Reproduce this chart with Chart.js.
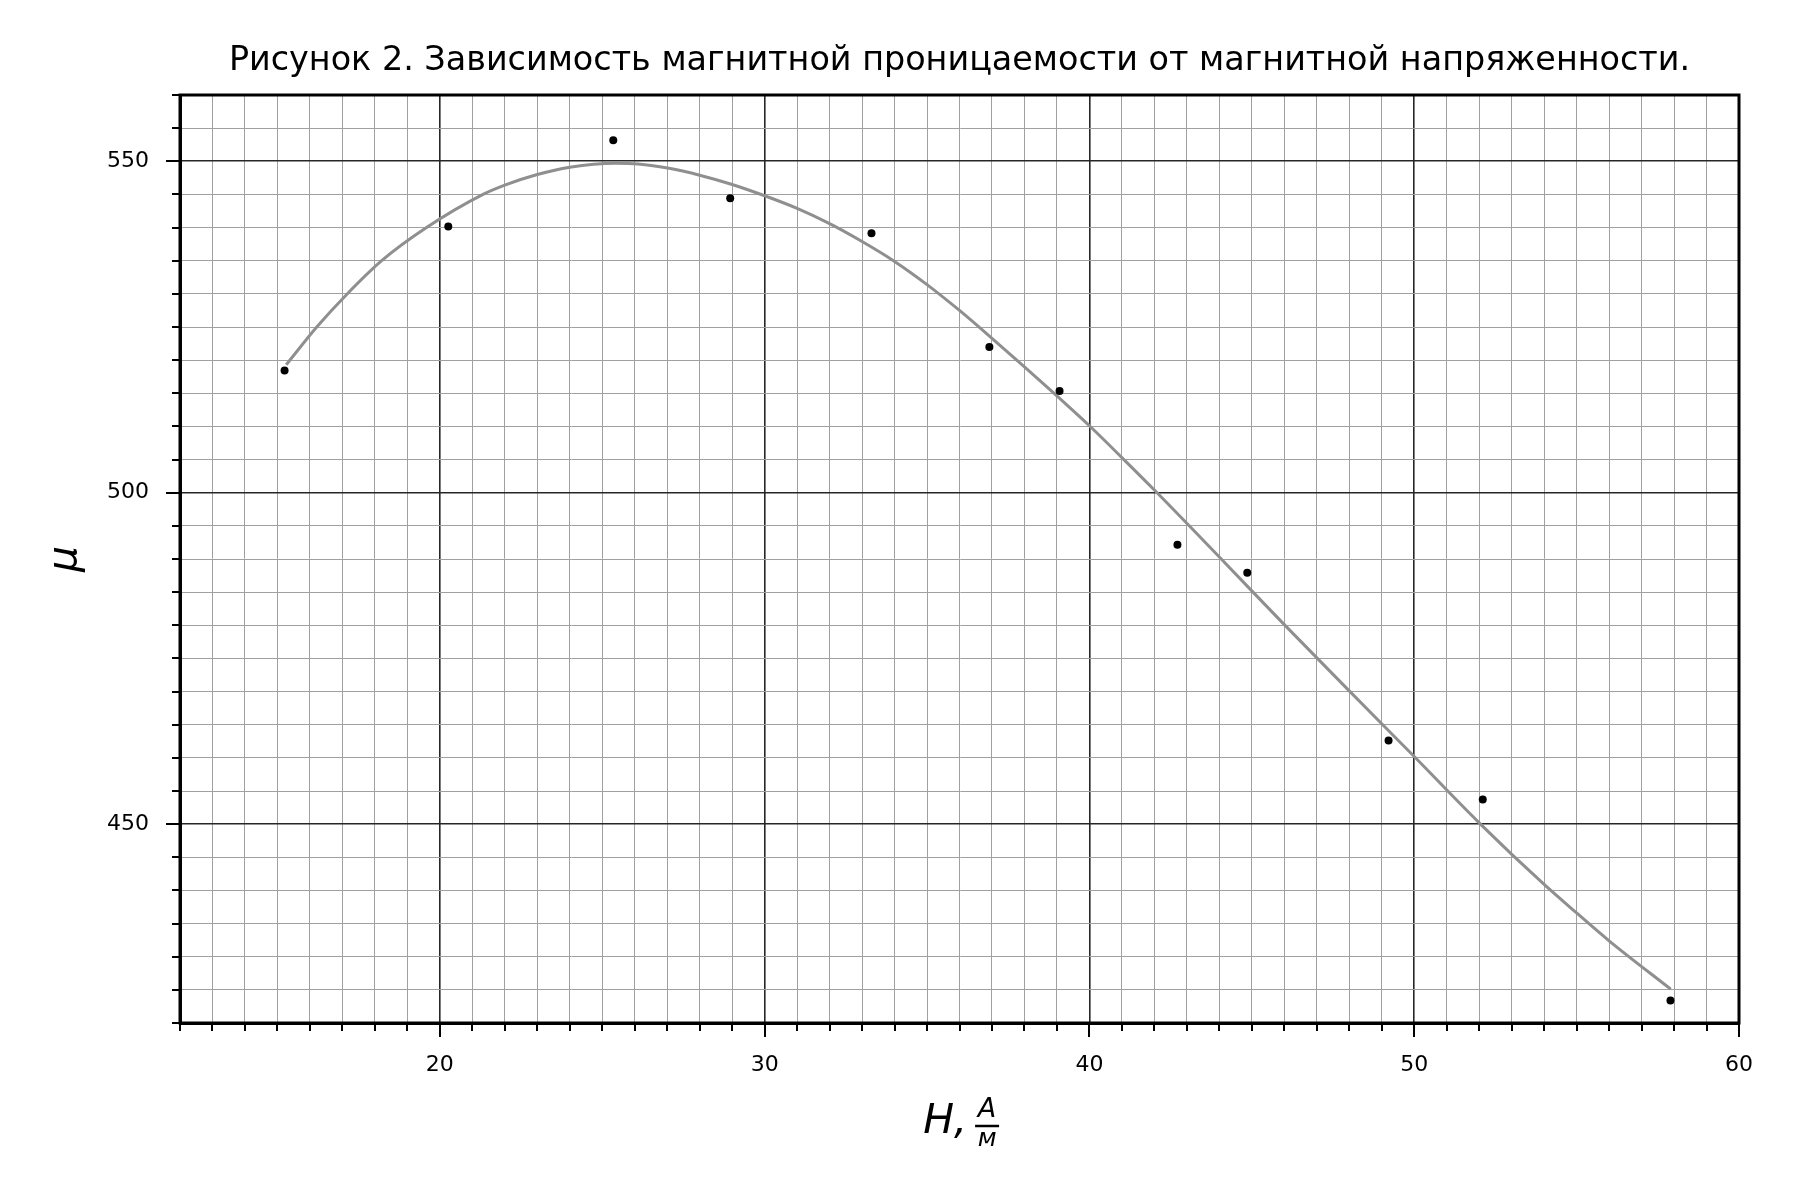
<!DOCTYPE html>
<html>
<head>
<meta charset="utf-8">
<script src="https://cdn.jsdelivr.net/npm/chart.js@4"></script>
<style>
  html, body { margin: 0; padding: 0; background: #ffffff; }
  canvas { display: block; }
</style>
</head>
<body>
<canvas id="c" width="1800" height="1200"></canvas>
<script>
// Measured points: H (A/m) and permeability mu
const measuredH  = [15.22, 20.26, 25.34, 28.94, 33.29, 36.92, 39.08, 42.71, 44.86, 49.21, 52.11, 57.89];
const measuredMu = [518.45, 540.16, 553.17, 544.43, 539.15, 521.97, 515.34, 492.14, 487.92, 462.6, 453.7, 423.4];

// Fitted curve
const fitH  = [15.27, 16.21, 17.11, 18.21, 19.59, 21.33, 22, 23, 24, 25.4, 26.1, 27.1, 28, 29, 30, 31, 32, 33, 34, 35, 36, 37, 38, 39, 40, 41, 42, 44, 46, 48, 50, 52, 54, 55, 56, 57.9];
const fitMu = [519.3, 525, 529.8, 535, 540, 545, 546.4, 548.0, 549.1, 549.7, 549.6, 548.9, 547.9, 546.5, 544.8, 542.9, 540.6, 537.9, 534.9, 531.4, 527.5, 523.3, 519.0, 514.6, 510.1, 505.3, 500.4, 490.3, 480.1, 470.1, 460.2, 450.2, 440.9, 436.6, 432.4, 425.1];

// Axis ranges and tick labels
const xRange = [12, 60];
const yRange = [420, 560];
const xMajorTicks = [20, 30, 40, 50, 60];
const yMajorTicks = [450, 500, 550];

const titleText = 'Рисунок 2. Зависимость магнитной проницаемости от магнитной напряженности.';
const xTitleMain = 'H,';
const xTitleNum = 'A';
const xTitleDen = 'м';
const yTitle = 'μ';

const FONT = "'DejaVu Sans', 'Noto Sans', sans-serif";

const framePlugin = {
  id: 'framePlugin',
  afterDraw(chart) {
    const { ctx, chartArea: a, scales: { x, y } } = chart;
    ctx.save();
    ctx.strokeStyle = '#000';
    ctx.lineWidth = 2;
    ctx.beginPath();
    x.ticks.forEach(t => {
      const px = Math.round(x.getPixelForValue(t.value));
      const len = xMajorTicks.includes(t.value) ? 14 : 8;
      ctx.moveTo(px, a.bottom);
      ctx.lineTo(px, a.bottom + len);
    });
    y.ticks.forEach(t => {
      const py = Math.round(y.getPixelForValue(t.value));
      const len = yMajorTicks.includes(t.value) ? 14 : 8;
      ctx.moveTo(a.left, py);
      ctx.lineTo(a.left - len, py);
    });
    ctx.stroke();
    ctx.lineWidth = 3;
    ctx.strokeRect(a.left, a.top, a.right - a.left, a.bottom - a.top);

    // fraction A/м next to the x title
    const cx = (a.left + a.right) / 2;
    ctx.font = "italic 41px " + FONT;
    const fullW = ctx.measureText(xTitleMain + '\u2002\u2009').width;
    const mainW = ctx.measureText(xTitleMain).width;
    const fracLeft = cx - fullW / 2 + mainW + 8;
    const fracW = 24;
    const fcx = fracLeft + fracW / 2;
    ctx.fillStyle = '#000';
    ctx.textAlign = 'center';
    ctx.textBaseline = 'alphabetic';
    ctx.font = "italic 27px " + FONT;
    ctx.fillText(xTitleNum, fcx, a.bottom + 94);
    ctx.lineWidth = 2.5;
    ctx.beginPath();
    ctx.moveTo(fracLeft, a.bottom + 103);
    ctx.lineTo(fracLeft + fracW, a.bottom + 103);
    ctx.stroke();
    ctx.font = "italic 25px " + FONT;
    ctx.fillText(xTitleDen, fcx, a.bottom + 123);
    ctx.restore();
  }
};

const gridColor = (majors) => (c) => (c.tick && majors.includes(c.tick.value)) ? '#262626' : '#a0a0a0';
const gridWidth = (majors) => (c) => (c.tick && majors.includes(c.tick.value)) ? 1.6 : 1;

new Chart(document.getElementById('c'), {
  type: 'scatter',
  data: {
    datasets: [
      {
        label: 'measured',
        data: measuredH.map((h, i) => ({ x: h, y: measuredMu[i] })),
        backgroundColor: '#000',
        borderColor: '#000',
        pointRadius: 4,
        pointBorderWidth: 0,
        showLine: false
      },
      {
        label: 'fit',
        data: fitH.map((h, i) => ({ x: h, y: fitMu[i] })),
        borderColor: '#8f8f8f',
        borderWidth: 3,
        pointRadius: 0,
        showLine: true,
        cubicInterpolationMode: 'monotone'
      }
    ]
  },
  options: {
    responsive: false,
    devicePixelRatio: 1,
    animation: false,
    layout: { padding: { left: 0, right: 61, top: 0, bottom: 0 } },
    plugins: {
      legend: { display: false },
      tooltip: { enabled: false },
      title: {
        display: true,
        text: titleText,
        fullSize: false,
        color: '#000',
        font: { family: FONT, size: 33.4, weight: 'normal', lineHeight: 1.0 },
        padding: { top: 44.8, bottom: 16.8 }
      }
    },
    scales: {
      x: {
        type: 'linear',
        min: xRange[0],
        max: xRange[1],
        afterFit: (s) => { s.height = 177; },
        border: { display: true, color: '#000', width: 3 },
        grid: {
          color: gridColor(xMajorTicks),
          lineWidth: gridWidth(xMajorTicks),
          drawTicks: true,
          tickLength: 14,
          tickColor: 'rgba(0,0,0,0)'
        },
        ticks: {
          stepSize: 1,
          autoSkip: false,
          maxRotation: 0,
          padding: 15,
          color: '#000',
          font: { family: FONT, size: 22 },
          callback: (v) => xMajorTicks.includes(v) ? String(v) : ''
        },
        title: {
          display: true,
          text: xTitleMain + '\u2002\u2009',
          color: '#000',
          font: { family: FONT, size: 41, style: 'italic', lineHeight: 1.2 },
          padding: { top: 0, bottom: 53 }
        }
      },
      y: {
        type: 'linear',
        min: yRange[0],
        max: yRange[1],
        afterFit: (s) => { s.width = 180; },
        border: { display: true, color: '#000', width: 3 },
        grid: {
          color: gridColor(yMajorTicks),
          lineWidth: gridWidth(yMajorTicks),
          drawTicks: true,
          tickLength: 14,
          tickColor: 'rgba(0,0,0,0)'
        },
        ticks: {
          stepSize: 5,
          autoSkip: false,
          padding: 17,
          color: '#000',
          font: { family: FONT, size: 22 },
          callback: (v) => yMajorTicks.includes(v) ? String(v) : ''
        },
        title: {
          display: true,
          text: yTitle,
          color: '#000',
          font: { family: FONT, size: 41, style: 'italic', lineHeight: 1.2 },
          padding: { top: 41, bottom: 0 }
        }
      }
    }
  },
  plugins: [framePlugin]
});
</script>
</body>
</html>
